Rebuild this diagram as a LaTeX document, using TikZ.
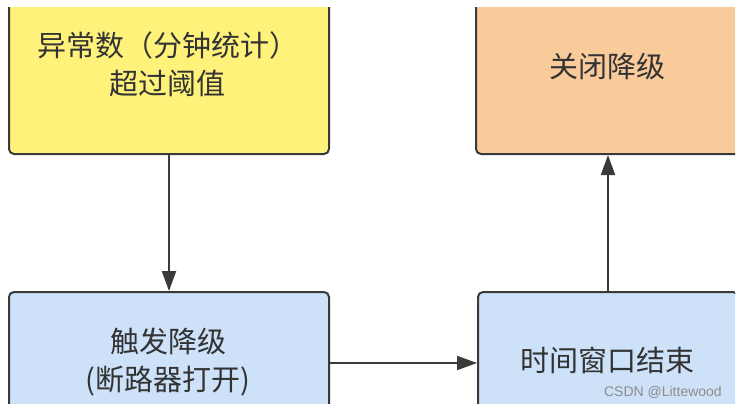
\documentclass[tikz,border=0pt]{standalone}
\usepackage{fontspec}
\newfontfamily\cjk{Noto Sans CJK SC}
\setmainfont{Liberation Sans}
\usetikzlibrary{arrows.meta}
\definecolor{yfill}{HTML}{FEF27B}
\definecolor{ofill}{HTML}{F9CB9B}
\definecolor{bfill}{HTML}{CDE1F9}
\definecolor{edge}{HTML}{3A3A3A}
\definecolor{txt}{HTML}{333333}
\tikzset{
  box/.style={draw=edge, line width=2pt, rounded corners=5pt, anchor=north west, inner sep=0pt},
  lbl/.style={font=\cjk\fontsize{29}{38}\selectfont, text=txt, align=center, inner sep=0pt},
  arr/.style={draw=edge, line width=2pt, -{Triangle[length=20pt,width=14pt]}},
  wm/.style={font=\fontsize{14}{16}\selectfont, text=black!45, anchor=east, inner sep=0pt}
}
\begin{document}
\begin{tikzpicture}[x=1pt,y=-1pt]
\useasboundingbox[fill=white] (0,0) rectangle (737,407);
\begin{scope}
\clip (0,7) rectangle (735,403);
\node[box, fill=yfill, minimum width=320pt, minimum height=173pt] (a) at (8,-20) {};
\node[box, fill=ofill, minimum width=264pt, minimum height=173pt] (d) at (475,-20) {};
\node[box, fill=bfill, minimum width=320pt, minimum height=142pt] (b) at (8,291) {};
\node[box, fill=bfill, minimum width=260pt, minimum height=142pt] (c) at (477,291) {};
\node[lbl] (ta) at (168,64) {异常数（分钟统计）\\超过阈值};
\node[lbl] (td) at (607,66) {关闭降级};
\node[lbl] (tb) at (168,362) {触发降级\\(断路器打开)};
\node[lbl] (tc) at (607,360) {时间窗口结束};
\node[wm] (w) at (722,392) {CSDN @Littewood};
\draw[arr] (a.south) -- (b.north);
\draw[arr] (b.east) -- (c.west);
\draw[arr] (c.north) -- (d.south);
\end{scope}
\end{tikzpicture}
\end{document}
